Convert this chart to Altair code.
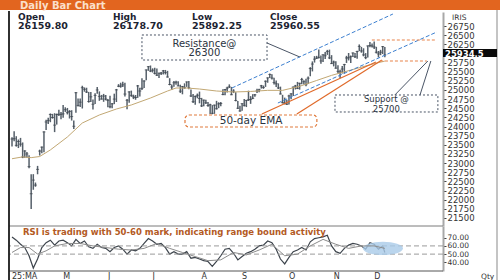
import altair as alt
import pandas as pd

# ---------------- data ----------------
close = [23658, 23668, 23486, 23592, 23519,
         23165, 23332, 23250, 22904, 22162, 22536, 22399, 22829, 23329, 23437, 23852, 24125, 24167, 24329, 24247, 24039, 24328, 24336, 24334,
         24347, 24461, 24380, 24414, 24273, 24008, 24925, 24578, 24667, 25062, 25020, 24945, 24684, 24813, 24610, 24853, 25001, 24826, 24752, 24834, 24751,
         24716, 24543, 24621, 24751, 25003, 25103, 25105, 25141, 24889, 24719, 24947, 24853, 24812, 24794, 25112, 24972, 25045, 25245, 25549, 25638, 25517,
         25542, 25454, 25405, 25461, 25461, 25523, 25476, 25355, 25150, 25082, 25196, 25212, 25112, 24968, 25091, 25061, 25220, 25062, 24837, 24681, 24821, 24855, 24768,
         24565, 24723, 24650, 24574, 24596, 24363, 24585, 24487, 24619, 24631, 24877, 25014, 25051, 25084, 24870, 24968, 24712, 24501, 24427,
         24625, 24580, 24715, 24734, 24741, 24773, 24868, 24973, 25006, 25114, 25069, 25239, 25330, 25424, 25327, 25203, 25170, 25057, 24891, 24655, 24635, 24611,
         24836, 24895, 25078, 25108, 25046, 25182, 25285, 25227, 25146, 25324, 25586, 25710, 25843, 25869, 25892, 25795, 25966, 25936, 26054, 25878, 25722,
         25763, 25598, 25510, 25492, 25574, 25695, 25876, 25880, 25910, 26013, 25910, 26052, 26192, 26068, 25960, 25885, 26205, 26216, 26203,
         26176, 26032, 25986, 26034, 26186, 25961]
high = [23709, 23869, 23736, 23646, 23690,
        23565, 23350, 23306, 23214, 22698, 22698, 22469, 22924, 23368, 23452, 23873, 24189, 24242, 24359, 24347, 24365, 24355, 24457, 24396,
        24589, 24527, 24509, 24449, 24447, 24164, 24944, 24767, 24767, 25116, 25070, 25062, 24947, 24946, 24737, 24909, 25079, 24962, 24865, 24893, 24863,
        24754, 24845, 24644, 24899, 25029, 25160, 25199, 25223, 25196, 24754, 24968, 24983, 24872, 24863, 25137, 25058, 25318, 25266, 25561, 25654, 25670,
        25593, 25608, 25588, 25470, 25489, 25548, 25548, 25524, 25322, 25151, 25245, 25255, 25238, 25145, 25111, 25182, 25233, 25247, 25010, 24889, 24848, 24903, 24956,
        24784, 24736, 24733, 24671, 24626, 24586, 24600, 24703, 24664, 24674, 25022, 25026, 25089, 25154, 25084, 25021, 24939, 24702, 24572,
        24636, 24756, 24730, 24981, 24832, 24885, 24891, 25035, 25037, 25139, 25122, 25261, 25346, 25449, 25429, 25332, 25261, 25181, 25092, 24868, 24791, 24731,
        24867, 24908, 25095, 25139, 25221, 25199, 25331, 25267, 25310, 25366, 25625, 25782, 25926, 25934, 26105, 25944, 25969, 26041, 26097, 26104, 25953,
        25803, 25787, 25679, 25551, 25653, 25715, 25934, 26011, 25940, 26027, 26014, 26075, 26246, 26179, 26141, 26009, 26215, 26310, 26273,
        26326, 26181, 26066, 26098, 26202, 26179]
low = [23451, 23601, 23451, 23412, 23451,
       23136, 23146, 23145, 22857, 21744, 22271, 22353, 22695, 23207, 23273, 23298, 23904, 24073, 24119, 24216, 23848, 24054, 24290, 24198,
       24238, 24400, 24331, 24220, 24164, 23935, 24378, 24547, 24535, 24494, 24953, 24917, 24655, 24671, 24463, 24614, 24900, 24704, 24737, 24677, 24717,
       24527, 24503, 24502, 24613, 24672, 25078, 25062, 25083, 24825, 24473, 24654, 24813, 24751, 24733, 24784, 24825, 24999, 25057, 25265, 25523, 25489,
       25477, 25426, 25383, 25331, 25407, 25425, 25425, 25340, 25129, 25001, 25088, 25145, 25101, 24919, 24882, 25035, 25085, 25018, 24806, 24647, 24599, 24772, 24636,
       24535, 24554, 24615, 24539, 24344, 24337, 24347, 24465, 24503, 24557, 24853, 24859, 24930, 25054, 24859, 24916, 24689, 24482, 24405,
       24432, 24547, 24533, 24699, 24621, 24751, 24814, 24916, 24941, 25038, 25031, 25085, 25198, 25330, 25287, 25152, 25084, 25027, 24878, 24630, 24606, 24588,
       24605, 24750, 24836, 25014, 25025, 25009, 25157, 25152, 25100, 25161, 25376, 25508, 25750, 25847, 25863, 25718, 25763, 25846, 25960, 25845, 25711,
       25645, 25578, 25449, 25318, 25449, 25449, 25740, 25808, 25740, 25903, 25876, 25856, 26063, 26019, 25920, 25843, 25887, 26166, 26161,
       26124, 25998, 25891, 25953, 25985, 25892]

ema_i = [0, 5, 9, 13, 18, 26, 33, 41, 49, 56, 65, 73, 77, 82, 88, 96, 104, 112, 120, 127, 135, 143, 150, 160, 170, 175]
ema_v = [23120, 23170, 23150, 23180, 23360, 23715, 24097, 24316, 24480, 24590, 24780, 24972, 25054, 25054, 25027, 24972,
         24945, 24960, 24990, 24990, 25100, 25260, 25400, 25560, 25720, 25790]

rsi_i = [0, 2, 4, 6, 8, 10, 12, 14, 16, 18, 20, 22, 24, 26, 28, 30, 32, 34, 36, 38, 40, 42, 44, 46, 48, 50, 52, 54, 56, 58,
         60, 62, 64, 66, 68, 70, 72, 74, 76, 78, 80, 82, 84, 86, 88, 90, 92, 94, 96, 98, 100, 102, 104, 106, 108, 110, 112, 114,
         116, 118, 120, 122, 124, 126, 128, 130, 132, 134, 136, 138, 140, 142, 144, 146, 148, 150, 152, 154, 156, 158, 160, 162,
         164, 166, 168, 170, 172, 174, 175]
rsi_v = [71, 67, 62, 58, 48, 33, 44, 58, 64, 67, 61, 66, 67, 64, 60, 68, 63, 66, 59, 57, 62, 58, 57, 53, 58, 60, 56, 50, 55, 54,
         57, 63, 69, 66, 62, 63, 58, 50, 53, 50, 50, 53, 45, 46, 44, 42, 41, 35, 41, 48, 56, 57, 51, 43, 47, 51, 53, 56,
         60, 61, 66, 64, 56, 44, 38, 46, 53, 55, 58, 55, 65, 69, 70, 71, 73, 60, 53, 51, 57, 61, 63, 62,
         60, 56, 64, 62, 56, 60, 52]
sig_i = [0, 4, 8, 12, 16, 20, 26, 32, 38, 44, 50, 56, 62, 68, 74, 80, 86, 92, 98, 104, 110, 116, 122, 128, 134, 140, 146, 152, 158, 164, 170, 175]
sig_v = [52, 58, 58, 50, 54, 60, 63, 63, 60, 58, 56, 55, 57, 63, 57, 52, 47, 42, 43, 52, 49, 55, 62, 48, 50, 60, 68, 62, 57, 60, 60, 57]

month_i = [0, 24, 45, 66, 89, 108, 130, 151, 170]
month_lab = ["25:MA", "M", "J", "J", "A", "S", "O", "N", "D"]
# 26000 sits under the last-price box in the reference, so it is not labelled
price_ticks = [21500, 21750, 22000, 22250, 22500, 22750, 23000, 23250, 23500, 23750, 24000, 24250,
               24500, 24750, 25000, 25250, 25500, 25750, 26250, 26500, 26750]
rsi_ticks = [40, 50, 60, 70]
rsi_levels = [50, 60]

ohlc_names = ["Open", "High", "Low", "Close"]
ohlc_vals = ["26159.80", "26178.70", "25892.25", "25960.55"]
last_price = "25934.5"

# annotation geometry in data units (bar index, price)
chan_x1 = [103.2, 124.8]; chan_y1 = [25054, 24644]; chan_x2 = [178.8, 199.4]; chan_y2 = [27078, 26586]
lvl_x1 = [168.9, 172.7]; lvl_x2 = [198.5, 194.7]; lvl_y = [26367, 25793]
ptr_x1 = [117.3, 133.7]; ptr_y1 = [24343, 24343]; ptr_x2 = [170.8, 173.6]; ptr_y2 = [25765, 25820]
con_x1 = [119.7, 179.7, 191.5]; con_y1 = [26285, 24863, 24863]; con_x2 = [135.1, 195.2, 196.6]; con_y2 = [25902, 25793, 25793]
box_x1 = [61.0, 151.6]; box_x2 = [119.7, 199.9]; box_y1 = [26504, 24863]; box_y2 = [25820, 24398]
ema_box = [81.2, 143.1, 24316, 23988]
ann_text = ["Resistance@", "26300", "Support @", "25700"]
ann_x = [90.3, 90.3, 175.7, 175.7]
ann_y = [26270, 26010, 24760, 24482]
ann_size = [10, 10, 8.5, 8.5]
ema_text = "50-day EMA"; ema_text_x = 112.2; ema_text_y = 24152
rsi_note = "RSI is trading with 50-60 mark, indicating range bound activity"
ell_i = [174.1]; ell_v = [57]

# ---------------- chart ----------------
FONT = "DejaVu Sans"
W, H1, H2 = 434, 214, 45
xs = alt.Scale(domain=[-1.41, 202.3], nice=False, zero=False)
ys = alt.Scale(domain=[21280, 27133], nice=False, zero=False)
rs = alt.Scale(domain=[29.4, 84.3], nice=False, zero=False)

price = pd.DataFrame({"i": list(range(len(close))), "close": close, "high": high, "low": low})
one = pd.DataFrame({"t": ["Daily Bar Chart"]})

yaxis = alt.Axis(orient="right", values=price_ticks, format="d", labelFont=FONT, labelFontSize=8.5,
                 labelColor="#333333", tickColor="#444444", tickSize=3, labelPadding=1,
                 domainColor="#a8a8a8", domainWidth=2, grid=False, title=None, labelOverlap=False)
raxis = alt.Axis(orient="right", values=rsi_ticks, format=".2f", labelFont=FONT, labelFontSize=7.5,
                 labelColor="#333333", tickColor="#444444", tickSize=3, labelPadding=1,
                 domainColor="#a8a8a8", domainWidth=2, grid=False, title=None, labelOverlap=False)


def X(f):
    return alt.X(f, scale=xs, axis=None)


def Y(f):
    return alt.Y(f, scale=ys, axis=yaxis, title=None)


def R(f):
    return alt.Y(f, scale=rs, axis=raxis, title=None)


bars = alt.Chart(price).mark_rule(color="#56606a", strokeWidth=1.5).encode(
    x=X("i:Q"), y=Y("low:Q"), y2="high:Q")
ticks = alt.Chart(price).mark_tick(color="#3a424a", thickness=1, size=3, orient="horizontal").encode(
    x=X("i:Q"), y=Y("close:Q"))

ema = alt.Chart(pd.DataFrame({"i": ema_i, "v": ema_v})).mark_line(color="#c2a874", strokeWidth=1).encode(
    x=X("i:Q"), y=Y("v:Q"))


def segs(x1, y1, x2, y2, **kw):
    df = pd.DataFrame({"x1": x1, "y1": y1, "x2": x2, "y2": y2})
    return alt.Chart(df).mark_rule(**kw).encode(x=X("x1:Q"), y=Y("y1:Q"), x2="x2:Q", y2="y2:Q")


chan = segs(chan_x1, chan_y1, chan_x2, chan_y2, color="#3c7fd0", strokeWidth=1, strokeDash=[4, 2])
lvls = segs(lvl_x1, lvl_y, lvl_x2, lvl_y, color="#e8834a", strokeWidth=1.2, strokeDash=[3, 2])
ptrs = segs(ptr_x1, ptr_y1, ptr_x2, ptr_y2, color="#e06a2a", strokeWidth=1.2)
cons = segs(con_x1, con_y1, con_x2, con_y2, color="#4a5566", strokeWidth=1)

boxes = alt.Chart(pd.DataFrame({"x1": box_x1, "x2": box_x2, "y1": box_y1, "y2": box_y2})).mark_rect(
    fill="white", stroke="#4a5566", strokeWidth=1, strokeDash=[2, 2]).encode(
    x=X("x1:Q"), x2="x2:Q", y=Y("y1:Q"), y2="y2:Q")
ebox = alt.Chart(pd.DataFrame({"x1": [ema_box[0]], "x2": [ema_box[1]], "y1": [ema_box[2]], "y2": [ema_box[3]]})).mark_rect(
    fill="white", stroke="#e07a3c", strokeWidth=1.2, strokeDash=[3, 2], cornerRadius=4).encode(
    x=X("x1:Q"), x2="x2:Q", y=Y("y1:Q"), y2="y2:Q")
atext = alt.Chart(pd.DataFrame({"t": ann_text, "x": ann_x, "y": ann_y, "s": ann_size})).mark_text(
    font=FONT, color="#2b3340", baseline="middle").encode(
    x=X("x:Q"), y=Y("y:Q"), text="t:N", size=alt.Size("s:Q", scale=None, legend=None))
etext = alt.Chart(pd.DataFrame({"t": [ema_text], "x": [ema_text_x], "y": [ema_text_y]})).mark_text(
    font=FONT, fontSize=10.5, color="#2b3340", baseline="middle").encode(x=X("x:Q"), y=Y("y:Q"), text="t:N")

header = alt.Chart(one).mark_rect(color="#e2651f").encode(
    x=alt.value(-9), x2=alt.value(491), y=alt.value(-12), y2=alt.value(-2))
htext = alt.Chart(one).mark_text(font=FONT, fontSize=10, fontWeight="bold", color="#fbe0cc",
                                 align="left", baseline="alphabetic").encode(
    x=alt.value(11), y=alt.value(-3.5), text="t:N")

ohlc = pd.DataFrame({"n": ohlc_names, "v": ohlc_vals, "px": [9, 104, 183, 261]})
ohlc_n = alt.Chart(ohlc).mark_text(font=FONT, fontSize=9, fontWeight="bold", color="#1c2331",
                                   align="left", baseline="alphabetic").encode(
    x=alt.X("px:Q", scale=None), y=alt.value(7.5), text="n:N")
ohlc_v = alt.Chart(ohlc).mark_text(font=FONT, fontSize=9.5, fontWeight="bold", color="#1c2331",
                                   align="left", baseline="alphabetic").encode(
    x=alt.X("px:Q", scale=None), y=alt.value(17), text="v:N")

frame_main = alt.layer(
    alt.Chart(one).mark_rule(color="#7a7a7a", strokeWidth=1).encode(x=alt.value(0), x2=alt.value(W), y=alt.value(H1)),
    alt.Chart(one).mark_rule(color="#1a1a1a", strokeWidth=1.8).encode(x=alt.value(0), y=alt.value(-1), y2=alt.value(H1)),
    alt.Chart(one).mark_rule(color="#b0b0b0", strokeWidth=1.5).encode(x=alt.value(488), y=alt.value(-2), y2=alt.value(H1)),
)
lp_box = alt.Chart(one).mark_rect(color="#0a0a0a").encode(
    x=alt.value(434), x2=alt.value(488), y=alt.value(37), y2=alt.value(45))
lp_text = alt.Chart(pd.DataFrame({"t": [last_price]})).mark_text(
    font=FONT, fontSize=8.5, fontWeight="bold", color="white", align="left", baseline="middle").encode(
    x=alt.value(436), y=alt.value(41.5), text="t:N")
iris = alt.Chart(pd.DataFrame({"t": ["IRIS"]})).mark_text(
    font=FONT, fontSize=7.5, color="#333333", align="left", baseline="middle").encode(
    x=alt.value(443), y=alt.value(6), text="t:N")

main = alt.layer(bars, header, htext, ticks, ema, chan, ptrs, lvls, cons, boxes, ebox, atext, etext,
                 ohlc_n, ohlc_v, frame_main, lp_box, lp_text, iris).properties(width=W, height=H1)

# ---------------- RSI panel ----------------
lv = alt.Chart(pd.DataFrame({"v": rsi_levels})).mark_rule(color="#9a9a9a", strokeDash=[5, 3], strokeWidth=1).encode(
    y=R("v:Q"))
ell = alt.Chart(pd.DataFrame({"i": ell_i, "v": ell_v})).mark_point(
    shape="M -1 0 A 1 0.33 0 1 1 1 0 A 1 0.33 0 1 1 -1 0 Z", size=1600, filled=True,
    color="#a9cbe9", opacity=0.8).encode(x=X("i:Q"), y=R("v:Q"))
sig = alt.Chart(pd.DataFrame({"i": sig_i, "v": sig_v})).mark_line(color="#8c8c8c", strokeWidth=1).encode(
    x=X("i:Q"), y=R("v:Q"))
rsi = alt.Chart(pd.DataFrame({"i": rsi_i, "v": rsi_v})).mark_line(color="#3d444c", strokeWidth=1.2).encode(
    x=X("i:Q"), y=R("v:Q"))
note = alt.Chart(pd.DataFrame({"t": [rsi_note]})).mark_text(
    font=FONT, fontSize=8.5, fontWeight="bold", color="#b35a1f", align="left", baseline="middle").encode(
    x=alt.value(14), y=alt.value(6), text="t:N")
months = alt.Chart(pd.DataFrame({"i": month_i, "t": month_lab})).mark_text(
    font=FONT, fontSize=8, color="#333333", align="left", baseline="top").encode(
    x=X("i:Q"), y=alt.value(H2 + 2), text="t:N")
qty = alt.Chart(pd.DataFrame({"t": ["Qty"]})).mark_text(
    font=FONT, fontSize=7.5, color="#333333", align="left", baseline="top").encode(
    x=alt.value(472), y=alt.value(H2 + 2), text="t:N")
frame_rsi = alt.layer(
    alt.Chart(one).mark_rule(color="#555555", strokeWidth=1).encode(x=alt.value(0), x2=alt.value(W), y=alt.value(H2)),
    alt.Chart(one).mark_rule(color="#1a1a1a", strokeWidth=1.8).encode(x=alt.value(0), y=alt.value(0), y2=alt.value(60)),
    alt.Chart(one).mark_rule(color="#b0b0b0", strokeWidth=1.5).encode(x=alt.value(488), y=alt.value(0), y2=alt.value(60)),
)

lower = alt.layer(rsi, lv, ell, sig, note, months, qty, frame_rsi).properties(width=W, height=H2)

chart = alt.vconcat(main, lower, spacing=0, bounds="flush").properties(
    padding=0, background="white").configure_view(stroke=None)

chart.save("out.html", embed_options={"renderer": "svg", "actions": False})
